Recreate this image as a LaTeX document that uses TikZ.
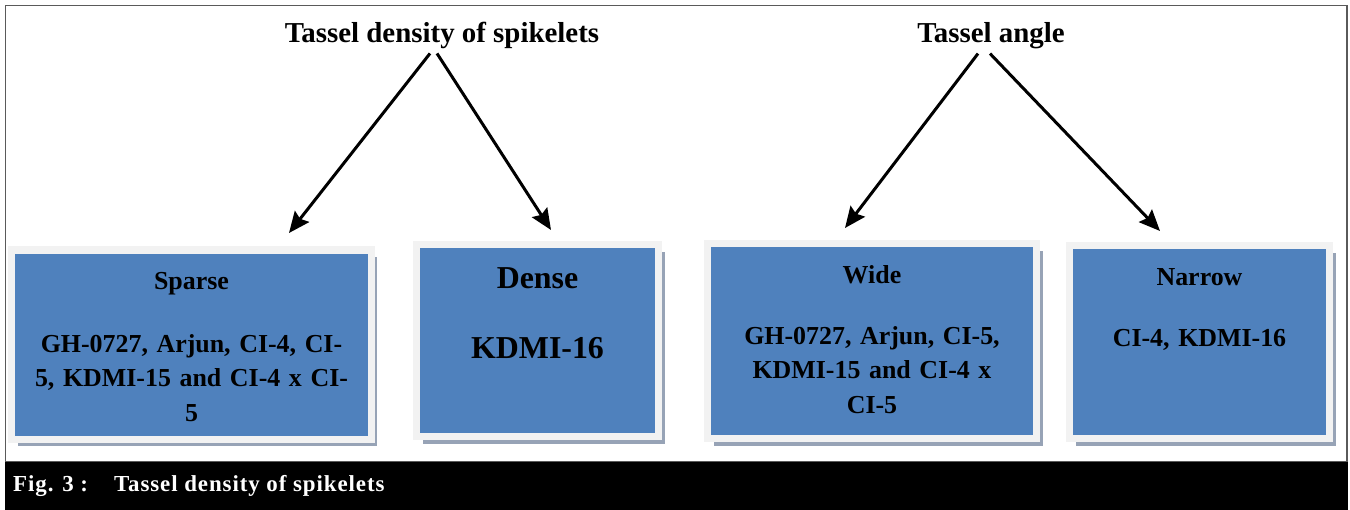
\documentclass[tikz,border=0pt]{standalone}
\usepackage{fontspec}
\setmainfont{Liberation Serif}
\usetikzlibrary{arrows.meta,shadows}

\definecolor{boxblue}{HTML}{4F81BD}
\definecolor{boxrim}{HTML}{F2F2F2}
\definecolor{boxshade}{HTML}{97A3B6}
\definecolor{framegray}{HTML}{5A5A5A}

\begin{document}
\begin{tikzpicture}[x=1bp, y=-1bp,
  head/.style = {font=\fontsize{29}{34}\selectfont\bfseries, inner sep=2bp},
  box/.style = {shape=rectangle, draw=boxrim, line width=7bp, fill=boxblue,
    drop shadow={shadow xshift=6bp, shadow yshift=-7bp,
      fill=boxshade, opacity=1},
    align=center, inner sep=0pt, outer sep=0pt, anchor=north,
    font=\fontsize{26}{34.5}\selectfont\bfseries},
  arr/.style = {line width=3bp,
    -{Stealth[length=21bp, width=18bp, inset=3bp]}}]
  \useasboundingbox (0,0) rectangle (1350,510);

  % frame and caption bar
  \draw[framegray, line width=1.8bp] (5.5,5.5) rectangle (1347,462);
  \fill[black] (5,461.5) rectangle (1348,510);
  \node[anchor=base west, inner sep=0pt, text=white,
    font=\fontsize{23}{28}\selectfont\bfseries\addfontfeatures{LetterSpace=4}]
    (caption) at (13,491)
    {Fig. 3 :\hspace{26bp}Tassel density of spikelets};

  % headings
  \node[head, anchor=base] (density) at (442,43) {Tassel density of spikelets};
  \node[head, anchor=base] (angle) at (991,43) {Tassel angle};

  % boxes
  \node[box, text width=359bp, text height=39bp, text depth=150bp]
    (sparse) at (191.5,250)
    {Sparse\\[29bp]
     GH-0727, Arjun, CI-4, CI-\\
     5, KDMI-15 and CI-4 x CI-\\
     5};
  \node[box, text width=242bp, text height=43.5bp, text depth=148.5bp,
    font=\fontsize{32}{35.5}\selectfont\bfseries]
    (dense) at (537.5,244.5)
    {Dense\\[35.5bp]
     KDMI-16};
  \node[box, text width=329bp, text height=39.5bp, text depth=155.5bp]
    (wide) at (872,243.5)
    {Wide\\[27bp]
     GH-0727, Arjun, CI-5,\\
     KDMI-15 and CI-4 x\\
     CI-5};
  \node[box, text width=260bp, text height=39.5bp, text depth=153.5bp]
    (narrow) at (1199.5,245.5)
    {Narrow\\[27.5bp]
     CI-4, KDMI-16};

  % arrows
  \draw[arr] ([xshift=-12bp, yshift=-2bp]density.south)
    -- ([shift={(97.5,-17)}]sparse.north);
  \draw[arr] ([xshift=-5bp, yshift=-2bp]density.south)
    -- ([shift={(13.5,-14.5)}]dense.north);
  \draw[arr] ([xshift=-13bp, yshift=-2bp]angle.south)
    -- ([shift={(-27,-15.5)}]wide.north);
  \draw[arr] ([xshift=-1bp, yshift=-2bp]angle.south)
    -- ([shift={(-39.5,-14.5)}]narrow.north);
\end{tikzpicture}
\end{document}
